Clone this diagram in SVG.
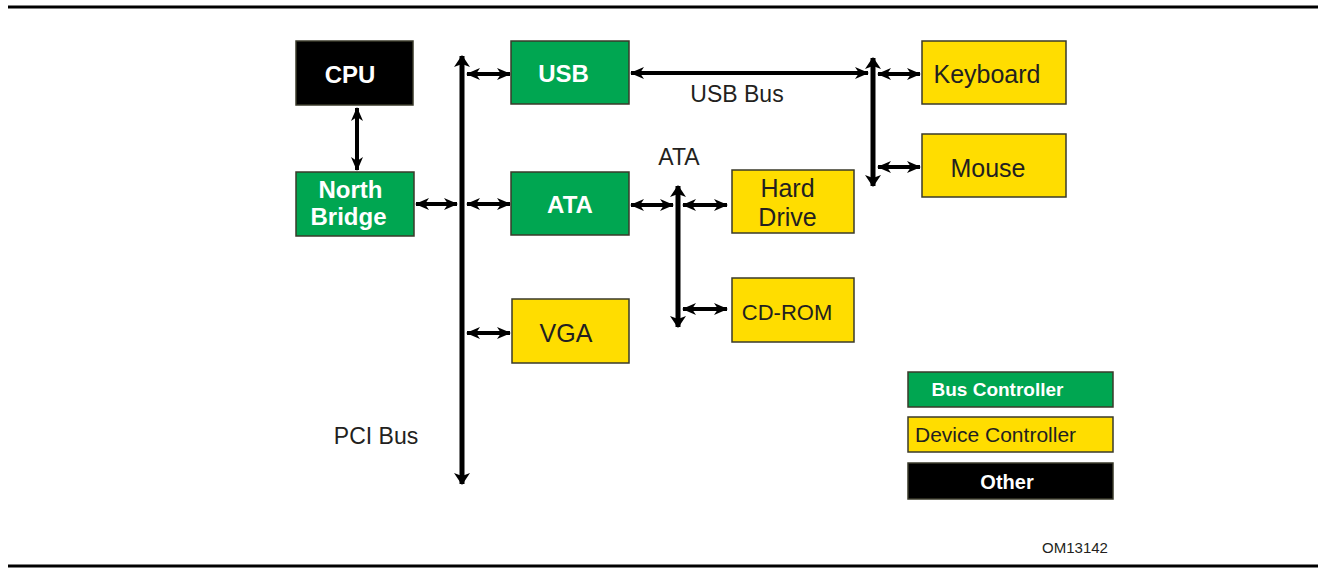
<svg xmlns="http://www.w3.org/2000/svg" width="1329" height="572" viewBox="0 0 1329 572">
<style>
.box{stroke:#3a3a2a;stroke-width:1.5}
.g{fill:#00A651}
.y{fill:#FFDD00}
.k{fill:#000}
.tw{font-family:"Liberation Sans",Arial,sans-serif;font-size:24px;font-weight:bold;fill:#fff;text-anchor:middle}
.td{font-family:"Liberation Sans",Arial,sans-serif;font-size:25px;fill:#231F20;text-anchor:middle}
.lbl{font-family:"Liberation Sans",Arial,sans-serif;font-size:23px;fill:#231F20;text-anchor:middle}
.c{stroke:#000;fill:none}
.s{stroke-width:4;marker-start:url(#ah);marker-end:url(#ah)}
.b{stroke-width:5;marker-start:url(#ahb);marker-end:url(#ahb)}
</style>
<defs>
<marker id="ah" markerUnits="userSpaceOnUse" viewBox="0 0 14 12" refX="13" refY="6" markerWidth="14" markerHeight="12" orient="auto-start-reverse">
<path d="M0,0 L14,6 L0,12 L4,6 z" fill="#000"/>
</marker>
<marker id="ahb" markerUnits="userSpaceOnUse" viewBox="0 0 12 16" refX="11" refY="8" markerWidth="12" markerHeight="16" orient="auto-start-reverse">
<path d="M0,0 L12,8 L0,16 L3,8 z" fill="#000"/>
</marker>
</defs>
<rect x="8" y="5.5" width="1310" height="3" fill="#000"/>
<rect x="8" y="564.5" width="1310" height="3" fill="#000"/>

<g id="connectors">
<path class="c b" d="M462,56 V484"/>
<path class="c b" d="M873,58 V186"/>
<path class="c b" d="M678,186 V327"/>
<path class="c s" d="M357,108 V170"/>
<path class="c s" d="M416,204 H457"/>
<path class="c s" d="M467,204 H510"/>
<path class="c s" d="M467,74 H510"/>
<path class="c s" d="M467,333 H510"/>
<path class="c s" d="M631,73 H868"/>
<path class="c s" d="M878,74 H920"/>
<path class="c s" d="M878,167 H920"/>
<path class="c s" d="M631,205 H673"/>
<path class="c s" d="M683,205 H727"/>
<path class="c s" d="M683,309 H727"/>
</g>

<g id="cpu"><rect class="box k" x="296" y="41" width="117" height="64"/><text class="tw" x="350" y="83">CPU</text></g>
<g id="northbridge"><rect class="box g" x="296" y="172" width="118" height="64"/><text class="tw" x="350.5" y="198">North</text><text class="tw" x="348.5" y="225">Bridge</text></g>
<g id="usb"><rect class="box g" x="511" y="41" width="118" height="63"/><text class="tw" x="563.5" y="82">USB</text></g>
<g id="ata"><rect class="box g" x="511" y="172" width="118" height="63"/><text class="tw" x="570" y="213">ATA</text></g>
<g id="vga"><rect class="box y" x="512" y="299" width="117" height="64"/><text class="td" x="566" y="342">VGA</text></g>
<g id="keyboard"><rect class="box y" x="922" y="41" width="144" height="63"/><text class="td" x="987" y="83">Keyboard</text></g>
<g id="mouse"><rect class="box y" x="922" y="134" width="144" height="63"/><text class="td" x="988" y="177">Mouse</text></g>
<g id="harddrive"><rect class="box y" x="732" y="170" width="122" height="63"/><text class="td" x="787.5" y="197">Hard</text><text class="td" x="787.5" y="226">Drive</text></g>
<g id="cdrom"><rect class="box y" x="732" y="278" width="122" height="64"/><text class="td" x="787" y="320" style="font-size:22px">CD-ROM</text></g>

<text class="lbl" x="737" y="102">USB Bus</text>
<text class="lbl" x="679" y="165">ATA</text>
<text class="lbl" x="376" y="444">PCI Bus</text>

<g id="legend">
<rect class="box g" x="908" y="372" width="205" height="35"/>
<text x="997.5" y="396" text-anchor="middle" style="font-family:'Liberation Sans',Arial,sans-serif;font-size:19px;font-weight:bold;fill:#fff">Bus Controller</text>
<rect class="box y" x="908" y="417" width="205" height="35"/>
<text x="915" y="442" style="font-family:'Liberation Sans',Arial,sans-serif;font-size:21px;fill:#231F20">Device Controller</text>
<rect class="box k" x="908" y="463" width="205" height="36"/>
<text x="1007" y="489" text-anchor="middle" style="font-family:'Liberation Sans',Arial,sans-serif;font-size:20px;font-weight:bold;fill:#fff">Other</text>
</g>
<text x="1075" y="553" text-anchor="middle" style="font-family:'Liberation Sans',Arial,sans-serif;font-size:15px;fill:#231F20">OM13142</text>
</svg>
